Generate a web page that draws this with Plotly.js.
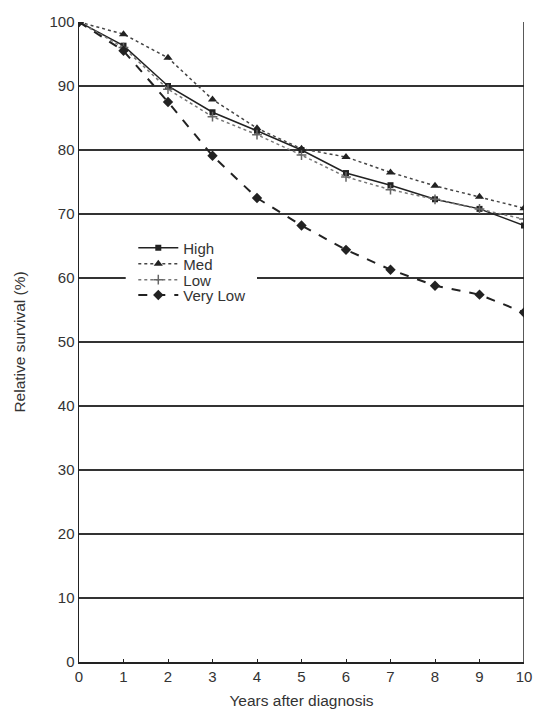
<!DOCTYPE html>
<html>
<head>
<meta charset="utf-8">
<script src="https://cdn.plot.ly/plotly-3.0.1.min.js"></script>
<style>html,body{margin:0;padding:0;background:#fff;}#chart{width:533px;height:709px;}</style>
</head>
<body>
<div id="chart"></div>
<script>
const years = [0,1,2,3,4,5,6,7,8,9,10];
const high = [100,96.3,90.0,85.9,83.0,80.0,76.4,74.5,72.3,70.8,68.2];
const med = [100,98.1,94.4,87.9,83.4,80.2,78.9,76.5,74.4,72.7,70.9];
const low = [100,96.0,89.5,85.2,82.4,79.2,75.8,73.8,72.3,70.8,69.2];
const veryLow = [100,95.5,87.5,79.1,72.5,68.2,64.4,61.3,58.8,57.4,54.6];
const seriesNames = ['High','Med','Low','Very Low'];
const xTicks = [0,1,2,3,4,5,6,7,8,9,10];
const yTicks = [0,10,20,30,40,50,60,70,80,90,100];

const ink = '#222';
const traces = [
  {x: years, y: high, name: seriesNames[0], mode: 'lines+markers', legend: 'legend',
   line: {color: ink, width: 1.5, dash: 'solid'},
   marker: {symbol: 'square', size: 6, color: ink}},
  {x: years, y: med, name: seriesNames[1], mode: 'lines+markers', legend: 'legend2',
   line: {color: '#444', width: 1.5, dash: 'dot'},
   marker: {symbol: 'triangle-up', size: 8, color: ink}},
  {x: years, y: low, name: seriesNames[2], mode: 'lines+markers', legend: 'legend3',
   line: {color: '#777', width: 1.5, dash: 'dot'},
   marker: {symbol: 'cross-thin', size: 7, color: '#666', line: {color: '#666', width: 1.5}}},
  {x: years, y: veryLow, name: seriesNames[3], mode: 'lines+markers', legend: 'legend4',
   line: {color: ink, width: 2, dash: 'dash'},
   marker: {symbol: 'diamond', size: 8, color: ink}}
];

function leg(y) {
  return {x: 0.122, y: y, xanchor: 'left', yanchor: 'middle', bgcolor: 'rgba(0,0,0,0)',
          font: {size: 15, color: '#333'}, itemwidth: 40, borderwidth: 0};
}

const layout = {
  width: 533, height: 709,
  margin: {l: 79, r: 9, t: 22, b: 47},
  paper_bgcolor: '#fff', plot_bgcolor: '#fff',
  font: {family: 'Liberation Sans, Arial, sans-serif', color: '#333', size: 15},
  showlegend: true,
  legend: leg(0.647), legend2: leg(0.622), legend3: leg(0.597), legend4: leg(0.573),
  xaxis: {range: [0, 10], tickvals: xTicks, ticktext: xTicks.map(String),
          showgrid: false, zeroline: false, showline: true, linecolor: ink, linewidth: 1.5,
          ticks: 'inside', ticklen: 3, tickcolor: ink, ticklabeloverflow: 'allow',
          tickfont: {size: 15, color: '#333'},
          title: {text: 'Years after diagnosis', font: {size: 15.5, color: '#333'}, standoff: 18}},
  yaxis: {range: [0, 100], tickvals: yTicks, ticktext: yTicks.map(String),
          showgrid: true, gridcolor: '#333', gridwidth: 1.5, zeroline: false,
          showline: true, linecolor: ink, linewidth: 1.5, ticks: '',
          tickfont: {size: 15, color: '#333'},
          title: {text: 'Relative survival (%)', font: {size: 15.5, color: '#333'}, standoff: 20}},
  shapes: [
    {type: 'line', xref: 'x', yref: 'paper', x0: 10, x1: 10, y0: 0, y1: 1,
     line: {color: ink, width: 1.5}},
    {type: 'rect', xref: 'paper', yref: 'paper', x0: 0.105, x1: 0.40, y0: 0.56, y1: 0.66,
     fillcolor: '#fff', line: {width: 0}, layer: 'above'}
  ]
};

Plotly.newPlot('chart', traces, layout, {displayModeBar: false, staticPlot: true});
</script>
</body>
</html>
